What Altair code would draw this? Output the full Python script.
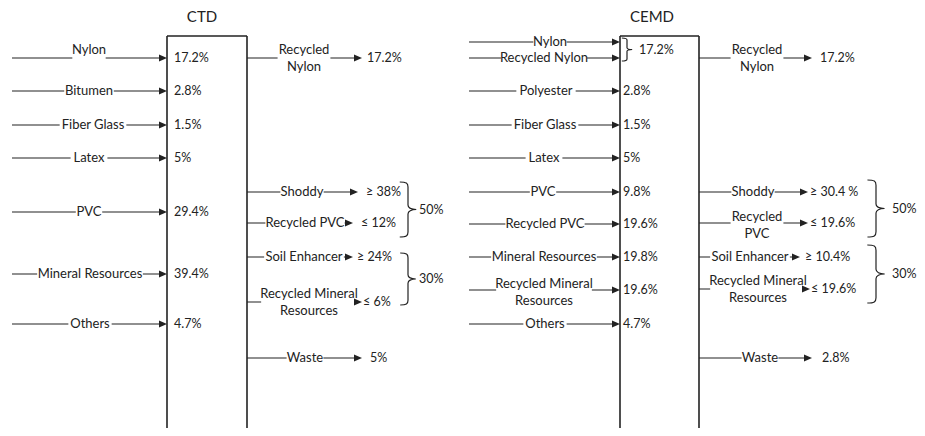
import altair as alt
import pandas as pd

# ----------------------------- data -----------------------------
ctd_title = "CTD"
ctd_inputs = ["Nylon", "Bitumen", "Fiber Glass", "Latex", "PVC", "Mineral Resources", "Others"]
ctd_input_shares = ["17.2%", "2.8%", "1.5%", "5%", "29.4%", "39.4%", "4.7%"]
ctd_outputs = ["Recycled\nNylon", "Shoddy", "Recycled PVC", "Soil Enhancer",
               "Recycled Mineral\nResources", "Waste"]
ctd_output_shares = ["17.2%", "≥ 38%", "≤ 12%", "≥ 24%", "≤ 6%", "5%"]
ctd_group_shares = ["50%", "30%"]

cemd_title = "CEMD"
cemd_inputs = ["Nylon", "Recycled Nylon", "Polyester", "Fiber Glass", "Latex", "PVC",
               "Recycled PVC", "Mineral Resources", "Recycled Mineral\nResources", "Others"]
cemd_joint_share = "17.2%"          # Nylon + Recycled Nylon
cemd_input_shares = ["", "", "2.8%", "1.5%", "5%", "9.8%", "19.6%", "19.8%", "19.6%", "4.7%"]
cemd_outputs = ["Recycled\nNylon", "Shoddy", "Recycled\nPVC", "Soil Enhancer",
                "Recycled Mineral\nResources", "Waste"]
cemd_output_shares = ["17.2%", "≥ 30.4 %", "≤ 19.6%", "≥ 10.4%", "≤ 19.6%", "2.8%"]
cemd_group_shares = ["50%", "30%"]

# ----------------------------- layout -----------------------------
ctd = dict(
    title_x=202, line_x0=12, box_x0=167, box_x1=247, box_top=36,
    in_y=[58, 91, 125, 158, 212, 274, 324],
    in_label_x=[89, 89, 93, 89, 89, 90, 90],
    in_label_y=[50, 91, 125, 158, 212, 274, 324],
    in_pct_x=174,
    out_y=[58, 192, 223, 257, 302, 358],
    out_label_x=[304, 302, 305, 304, 309, 305],
    out_label_y=[58, 192, 223, 257, 302, 358],
    out_tip=[362, 358, 353, 353, 362, 362],
    out_pct_x=[367, 366, 361, 357, 363, 370],
    braces=[(182, 237, 408), (253, 305, 408)], brace_text_x=419,
)
cemd = dict(
    title_x=652, line_x0=469, box_x0=620, box_x1=699, box_top=36,
    in_y=[42, 58, 91, 125, 158, 192, 224, 257, 290, 324],
    in_label_x=[550, 544, 546, 545, 544, 543, 545, 544, 544, 545],
    in_label_y=[42, 58, 91, 125, 158, 192, 224, 257, 292, 324],
    in_pct_x=623,
    joint_brace=(38, 61, 627), joint_text=(639, 50),
    out_y=[58, 192, 223, 257, 289, 358],
    out_label_x=[757, 753, 757, 750, 758, 760],
    out_label_y=[58, 192, 225, 257, 289, 358],
    out_tip=[812, 808, 808, 800, 810, 812],
    out_pct_x=[820, 810, 810, 805, 811, 822],
    braces=[(180, 237, 876), (245, 303, 876)], brace_text_x=892,
)
BOTTOM = 428
FONT = "Lato"
INK = "#222222"
LABEL_SIZE = 13
PCT_SIZE = 12.5
LH = 17


def est_width(text):
    w = 0.0
    for ch in text:
        if ch == " ":
            w += 2.8
        elif ch.isupper():
            w += 7.2
        elif ch in "il":
            w += 2.8
        elif ch in "mw":
            w += 9.0
        else:
            w += 6.0
    return w * LABEL_SIZE / 12.0


def brace_path(w):
    return (f"M{-w},-1 C{-w*0.2},-1 0,-0.96 0,-0.82 L0,-0.16 C0,-0.06 {w*0.4},0 {w},0 "
            f"C{w*0.4},0 0,0.06 0,0.16 L0,0.82 C0,0.96 {-w*0.2},1 {-w},1")


rules, bgs, labels, pcts, arrows, braces, titles = [], [], [], [], [], [], []


def add_label(text, cx, cy):
    lines = text.split("\n")
    w = max(est_width(s) for s in lines)
    h = len(lines) * LH
    bgs.append(dict(x=cx - w / 2 - 1.5, x2=cx + w / 2 + 1.5, y=cy - h / 2 - 1, y2=cy + h / 2 + 2))
    labels.append(dict(x=cx, y=cy - (len(lines) - 1) * LH / 2, text=text))


def build(L, title, inputs, in_shares, outputs, out_shares, groups):
    titles.append(dict(x=L["title_x"], y=17, text=title))
    # box (open at the bottom)
    rules.append(dict(x=L["box_x0"], x2=L["box_x1"], y=L["box_top"], y2=L["box_top"], w=1.6))
    rules.append(dict(x=L["box_x0"], x2=L["box_x0"], y=L["box_top"], y2=BOTTOM, w=1.6))
    rules.append(dict(x=L["box_x1"], x2=L["box_x1"], y=L["box_top"], y2=BOTTOM, w=1.6))
    for i, name in enumerate(inputs):
        y = L["in_y"][i]
        rules.append(dict(x=L["line_x0"], x2=L["box_x0"] - 4, y=y, y2=y, w=1.2))
        arrows.append(dict(x=L["box_x0"] - 4, y=y))
        add_label(name, L["in_label_x"][i], L["in_label_y"][i])
        if in_shares[i]:
            pcts.append(dict(x=L["in_pct_x"], y=y, text=in_shares[i]))
    for i, name in enumerate(outputs):
        y = L["out_y"][i]
        rules.append(dict(x=L["box_x1"], x2=L["out_tip"][i] - 4, y=y, y2=y, w=1.2))
        arrows.append(dict(x=L["out_tip"][i] - 4, y=y))
        add_label(name, L["out_label_x"][i], L["out_label_y"][i])
        pcts.append(dict(x=L["out_pct_x"][i], y=y, text=out_shares[i]))
    for (top, bot, bx), g in zip(L["braces"], groups):
        h = bot - top
        braces.append(dict(x=bx, y=(top + bot) / 2, size=h * h, path=brace_path(0.3)))
        pcts.append(dict(x=L["brace_text_x"], y=(top + bot) / 2, text=g))


build(ctd, ctd_title, ctd_inputs, ctd_input_shares, ctd_outputs, ctd_output_shares, ctd_group_shares)
build(cemd, cemd_title, cemd_inputs, cemd_input_shares, cemd_outputs, cemd_output_shares, cemd_group_shares)
jt, jb, jx = cemd["joint_brace"]
braces.append(dict(x=jx, y=(jt + jb) / 2, size=(jb - jt) ** 2, path=brace_path(0.45)))
pcts.append(dict(x=cemd["joint_text"][0], y=cemd["joint_text"][1], text=cemd_joint_share))

XS = alt.Scale(domain=[8, 917], nice=False, zero=False)
YS = alt.Scale(domain=[8, 428], nice=False, zero=False, reverse=True)


def X(f="x"):
    return alt.X(f"{f}:Q", scale=XS, axis=None)


def Y(f="y"):
    return alt.Y(f"{f}:Q", scale=YS, axis=None)


rule_layer = alt.Chart(pd.DataFrame(rules)).mark_rule(color=INK).encode(
    x=X(), x2="x2:Q", y=Y(), y2="y2:Q", strokeWidth=alt.StrokeWidth("w:Q", scale=None))
bg_layer = alt.Chart(pd.DataFrame(bgs)).mark_rect(color="white", opacity=1).encode(
    x=X(), x2="x2:Q", y=Y(), y2="y2:Q")
label_layer = alt.Chart(pd.DataFrame(labels)).mark_text(
    font=FONT, fontSize=LABEL_SIZE, color=INK, align="center", baseline="middle",
    lineBreak="\n", lineHeight=LH).encode(x=X(), y=Y(), text="text:N")
pct_layer = alt.Chart(pd.DataFrame(pcts)).mark_text(
    font=FONT, fontSize=PCT_SIZE, color=INK, align="left", baseline="middle").encode(
    x=X(), y=Y(), text="text:N")
arrow_layer = alt.Chart(pd.DataFrame(arrows)).mark_point(
    shape="M-1,-0.85L1,0L-1,0.85Z", filled=True, size=64, color=INK, opacity=1,
    strokeWidth=0).encode(x=X(), y=Y())
brace_layer = alt.Chart(pd.DataFrame(braces)).mark_point(
    filled=False, color=INK, strokeWidth=1.2, opacity=1).encode(
    x=X(), y=Y(), size=alt.Size("size:Q", scale=None, legend=None),
    shape=alt.Shape("path:N", scale=None, legend=None))
title_layer = alt.Chart(pd.DataFrame(titles)).mark_text(
    font=FONT, fontSize=15, color=INK, align="center", baseline="middle").encode(
    x=X(), y=Y(), text="text:N")

chart = alt.layer(rule_layer, bg_layer, label_layer, pct_layer, arrow_layer, brace_layer,
                  title_layer).properties(
    width=909, height=420, padding=0, autosize="none", background="white"
).configure_view(stroke=None)

chart.save("out.html", embed_options={"renderer": "svg", "actions": False})
